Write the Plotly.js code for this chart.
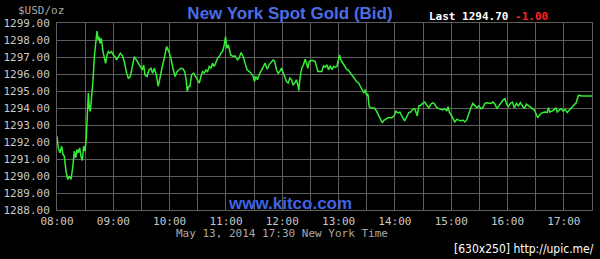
<!DOCTYPE html>
<html>
<head>
<meta charset="utf-8">
<script src="https://cdn.plot.ly/plotly-3.0.1.min.js"></script>
<style>
  html, body { margin: 0; padding: 0; background: #000; }
  #chart { width: 600px; height: 259px; }
</style>
</head>
<body>
<div id="chart"></div>
<script>
// Minutes after 08:00 (New York time), May 13, 2014
const minutes = [
  0,1.4,3.2,5,6.4,7.8,9.6,11.4,13.1,14.9,16.7,18.5,19.9,21.3,22.7,24.1,25.6,27,28.4,29.8,
  31.2,32.3,33.4,34.4,35.5,36.9,38.3,39.8,41.2,42.6,43.7,44.7,45.8,47.2,49,50.4,51.8,53.3,54.7,56.4,
  58.2,60,61.8,63.5,65.3,67.5,69.6,71.7,73.8,76,78.1,80.2,82.4,84.5,86.6,88.8,90.9,92.3,93.7,95.9,
  98,100.1,101.9,103.7,105.8,107.9,110.1,112.2,114.3,116.8,118.9,121.4,123.5,125.7,127.8,129.9,132,134.2,136,137.4,
  138.8,140.2,141.6,143.4,145.6,147.7,149.8,151.6,153.4,155.1,156.9,158.7,160.5,162.2,164,165.8,167.6,169.3,171.1,172.9,
  174.6,176.4,178.2,179.6,181,182.5,
  185.1,187.6,189.7,192.2,194,196.1,198.3,200.4,202.5,204.7,
  206.8,208.9,210.4,211.8,213.6,215.3,217.5,219.6,221.7,223.9,
  226,228.1,230.3,232,233.8,235.6,237.4,239.2,240.9,242.7,
  244.5,246.3,248,249.8,251.6,253.3,255.1,256.6,257.6,259.1,
  260.8,262.6,264.4,265.8,267.2,268.7,270.8,272.9,275.1,276.5,
  277.9,280,282.2,283.9,285.7,287.5,289.3,291.1,292.8,294.6,
  296.4,298.2,299.6,301,302.4,304.2,306.3,308.5,310.6,312.7,
  314.9,317,319.1,321.3,323.4,325.2,327,328.4,329.8,331.2,
  332.6,334.4,336.2,338.3,340.5,342.6,344.7,346.5,348.3,350.4,
  352.6,354.7,356.8,359,361.1,363.2,365.3,367.5,369.6,
  370.4,372.2,374.7,376.8,379,381.1,382.5,383.9,385.4,387.5,
  389.6,391.8,393.9,396.1,398.2,400.3,402.5,404.6,406.7,408.9,
  411,413.2,415.3,416.7,418.1,419.6,421.7,423.8,426,428.1,
  430.3,432.4,434.5,436.7,438.8,441,443.1,445.2,447.4,449.5,
  451.6,453.8,455.9,458.1,460.2,462.3,464.5,466.6,468.7,470.9,
  473,475.2,477.3,478.7,480.9,483,485.1,487.3,489.4,491.5,
  493.7,495.8,497.9,500.1,502.2,504.4,506.5,508.6,510.4,512.2,
  514,515.8,517.9,520,522.2,523.6,525,527.2,529.3,531.5,
  532.9,535,537.2,539.3,541.4,543.6,545.7,547.8,550,551.4,
  552.8,554.3,555.7,559.2,564.6,570
];

// Spot gold bid, USD/oz
const prices = [
  1292.34,1291.65,1291.36,1291.75,1291.26,1291.16,1290.29,1289.8,1290.0,1289.8,
  1290.48,1291.46,1291.07,1291.55,1291.36,1291.65,1291.16,1290.91,1291.75,1291.46,
  1292.24,1294.0,1294.88,1294.0,1293.8,1294.68,1295.56,1297.02,1298.0,1298.53,
  1298.0,1298.2,1297.8,1298.1,1297.32,1297.02,1296.63,1297.12,1297.32,1297.22,
  1297.32,1297.12,1297.02,1296.83,1297.02,1297.22,1297.08,1296.73,1296.14,1295.75,
  1295.85,1296.54,1297.02,1296.83,1296.63,1296.44,1296.24,1296.54,1295.95,1295.85,
  1296.24,1296.34,1296.05,1296.34,1295.95,1295.27,1295.95,1296.44,1296.93,1297.61,
  1297.36,1296.93,1296.34,1295.85,1296.14,1296.24,1296.34,1296.3,1296.14,1295.75,
  1294.97,1295.27,1295.27,1295.95,1296.05,1295.85,1295.66,1295.46,1295.85,1296.14,
  1296.05,1296.24,1296.14,1296.44,1296.34,1296.63,1296.44,1296.73,1296.93,1297.02,
  1297.22,1297.32,1297.71,1298.2,1297.51,1297.71,
  1297.12,1297.03,1297.06,1296.83,1296.93,1297.26,1297.03,1296.64,1296.25,1296.15,
  1296.05,1295.86,1295.56,1295.86,1295.66,1295.95,1296.15,1296.4,1296.64,1296.28,
  1296.54,1296.67,1296.83,1296.73,1296.25,1296.05,1296.15,1296.34,1296.05,1295.86,
  1295.56,1295.47,1295.76,1295.66,1295.37,1295.47,1295.66,1295.37,1295.02,1295.86,
  1296.34,1296.54,1296.87,1296.64,1296.34,1296.73,1296.79,1296.79,1296.73,1296.44,
  1296.15,1296.15,1296.15,1296.48,1296.4,1296.54,1296.25,1296.48,1296.25,1296.44,
  1296.4,1296.44,1296.73,1297.12,1296.83,1296.64,1296.44,1296.28,1296.21,1296.05,
  1295.95,1295.76,1295.56,1295.47,1295.27,1295.08,1294.88,1295.08,1294.73,1294.84,
  1294.1,1294.0,1294.0,1294.0,1293.81,1293.56,1293.32,1293.13,1293.28,1293.36,
  1293.42,1293.42,1293.42,1293.52,1293.81,1293.71,1293.75,1293.52,1293.28,
  1293.24,1293.43,1293.73,1293.76,1293.92,1293.96,1293.76,1293.53,1294.12,1294.16,
  1294.27,1294.35,1294.16,1294.02,1294.22,1294.31,1294.22,1294.02,1293.96,1293.92,
  1293.88,1293.96,1293.82,1294.08,1293.73,1293.63,1293.43,1293.18,1293.33,1293.29,
  1293.24,1293.29,1293.18,1293.33,1293.73,1294.02,1294.27,1294.16,1294.02,1294.12,
  1293.96,1294.02,1294.27,1294.31,1294.31,1294.27,1294.35,1294.22,1293.96,1294.16,
  1294.35,1294.47,1294.55,1294.27,1294.08,1294.27,1294.35,1294.02,1294.27,1294.12,
  1294.31,1294.16,1293.96,1294.22,1294.12,1294.02,1293.96,1293.88,1293.63,1293.43,
  1293.57,1293.69,1293.73,1293.76,1293.73,1294.02,1293.76,1293.82,1293.88,1294.02,
  1293.76,1293.88,1293.96,1293.82,1293.92,1293.73,1293.88,1294.02,1294.12,1294.22,
  1294.27,1294.47,1294.75,1294.7,1294.7,1294.7
];

const yTicks = [1288,1289,1290,1291,1292,1293,1294,1295,1296,1297,1298,1299];
const chartTitle = "New York Spot Gold (Bid)";
const lastLabel = "Last 1294.70";
const changeLabel = "-1.00";
const unitLabel = "$USD/oz";
const siteLabel = "www.kitco.com";
const dateLabel = "May 13, 2014 17:30 New York Time";
const credit = "[630x250] http://upic.me/";

function pad(n) { return (n < 10 ? "0" : "") + n; }
function toStamp(m) {
  const s = Math.round(m * 60);
  const h = 8 + Math.floor(s / 3600);
  const mi = Math.floor((s % 3600) / 60);
  const se = s % 60;
  return "2014-05-13 " + pad(h) + ":" + pad(mi) + ":" + pad(se);
}
const xs = minutes.map(toStamp);

// pixel -> paper helpers for annotations (plot area 57..592 x 23..210)
const L = 57, R = 592, T = 23, B = 210;
const px = p => (p - L) / (R - L);
const py = p => (B - p) / (B - T);

const mono = "DejaVu Sans Mono, monospace";
const gridC = "#5e5e5e";

const trace = {
  x: xs, y: prices, type: "scatter", mode: "lines",
  line: { color: "#35ee35", width: 1.5 },
  hoverinfo: "skip"
};

const layout = {
  width: 600, height: 259,
  paper_bgcolor: "#000", plot_bgcolor: "#000",
  margin: { l: L, r: 600 - R, t: T, b: 259 - B, pad: 0 },
  showlegend: false,
  title: {
    text: chartTitle,
    font: { family: "Liberation Sans, Arial, sans-serif", size: 17, color: "#4a6ee6", weight: "bold" },
    xref: "container", yref: "container",
    x: 290 / 600, xanchor: "center", y: 1 - 13 / 259, yanchor: "middle"
  },
  xaxis: {
    type: "date",
    range: ["2014-05-13 08:00:00", "2014-05-13 17:30:00"],
    tick0: "2014-05-13 08:00:00", dtick: 3600000,
    tickformat: "%H:%M",
    showgrid: true, gridcolor: gridC, gridwidth: 1,
    minor: { tick0: "2014-05-13 08:00:00", dtick: 1800000, showgrid: true, gridcolor: gridC, gridwidth: 1, ticks: "" },
    showline: true, linecolor: gridC, linewidth: 1, mirror: true,
    ticks: "", zeroline: false,
    ticklabelstandoff: 1,
    tickfont: { family: mono, size: 11, color: "#c8c8c8" },
    fixedrange: true
  },
  yaxis: {
    range: [1288, 1299],
    tickvals: yTicks,
    tickformat: ".2f",
    showgrid: true, gridcolor: gridC, gridwidth: 1,
    showline: true, linecolor: gridC, linewidth: 1, mirror: true,
    ticks: "", zeroline: false,
    ticklabelstandoff: 4,
    tickfont: { family: mono, size: 11, color: "#c8c8c8" },
    fixedrange: true
  },
  annotations: [
    { text: unitLabel, xref: "paper", yref: "paper", x: px(41), y: py(11),
      xanchor: "center", yanchor: "middle", showarrow: false,
      font: { family: mono, size: 11, color: "#a8a8a8" } },
    { text: "<b>" + lastLabel + " <span style='color:#ff2222'>" + changeLabel + "</span></b>",
      xref: "paper", yref: "paper", x: px(427), y: py(16),
      xanchor: "left", yanchor: "middle", showarrow: false,
      font: { family: mono, size: 11, color: "#ffffff" } },
    { text: "<b>" + siteLabel + "</b>", xref: "paper", yref: "paper", x: px(290), y: py(203),
      xanchor: "center", yanchor: "middle", showarrow: false,
      font: { family: "Liberation Sans, Arial, sans-serif", size: 17, color: "#3f63e2" } },
    { text: dateLabel, xref: "paper", yref: "paper", x: px(281.5), y: py(233.5),
      xanchor: "center", yanchor: "middle", showarrow: false,
      font: { family: mono, size: 11, color: "#a8a8a8" } },
    { text: credit, xref: "paper", yref: "paper", x: px(596), y: py(249),
      xanchor: "right", yanchor: "middle", showarrow: false,
      font: { family: "Liberation Sans Narrow, DejaVu Sans Condensed, sans-serif", size: 12, color: "#ffffff" } }
  ]
};

Plotly.newPlot("chart", [trace], layout, { staticPlot: true, displayModeBar: false });
</script>
</body>
</html>
